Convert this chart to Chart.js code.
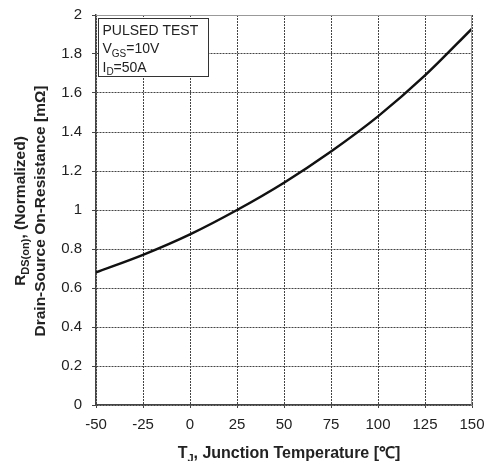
<!DOCTYPE html>
<html>
<head>
<meta charset="utf-8">
<script src="https://cdn.jsdelivr.net/npm/chart.js@4.4.1/dist/chart.umd.min.js"></script>
<style>
    html, body { margin: 0; padding: 0; background: #fff; }
    #wrap { width: 491px; height: 461px; }
</style>
</head>
<body>
<div id="wrap"><canvas id="myChart"></canvas></div>
<script>
// junction temperature (°C) and normalized on-resistance
const temps = [-50, -25, 0, 25, 50, 75, 100, 125, 150];
const rdsOn = [0.68, 0.77, 0.875, 1.0, 1.14, 1.30, 1.48, 1.69, 1.93];
const xTicks = [-50, -25, 0, 25, 50, 75, 100, 125, 150];
const yTicks = [0, 0.2, 0.4, 0.6, 0.8, 1, 1.2, 1.4, 1.6, 1.8, 2];
const noteLines = [['PULSED TEST', ''], ['V', 'GS', '=10V'], ['I', 'D', '=50A']];

const FONT = '"Liberation Sans", Arial, sans-serif';

// draws pieces [main, sub, rest] and returns total width
function drawSubText(ctx, parts, x, y, size, bold, align) {
    const weight = bold ? 'bold ' : '';
    const subSize = Math.round(size * 0.7);
    ctx.font = weight + size + 'px ' + FONT;
    const w0 = ctx.measureText(parts[0]).width;
    const w2 = parts[2] ? ctx.measureText(parts[2]).width : 0;
    ctx.font = weight + subSize + 'px ' + FONT;
    const w1 = parts[1] ? ctx.measureText(parts[1]).width : 0;
    const total = w0 + w1 + w2;
    let sx = align === 'center' ? x - total / 2 : x;
    ctx.textBaseline = 'alphabetic';
    ctx.textAlign = 'left';
    ctx.font = weight + size + 'px ' + FONT;
    ctx.fillText(parts[0], sx, y);
    if (parts[1]) {
        ctx.font = weight + subSize + 'px ' + FONT;
        ctx.fillText(parts[1], sx + w0, y + size * 0.25);
    }
    if (parts[2]) {
        ctx.font = weight + size + 'px ' + FONT;
        ctx.fillText(parts[2], sx + w0 + w1, y);
    }
    return total;
}

const decorations = {
    id: 'decorations',
    afterDraw(chart) {
        const ctx = chart.ctx;
        const area = chart.chartArea;
        ctx.save();

        // light frame on top and right
        ctx.strokeStyle = '#999';
        ctx.lineWidth = 1;
        ctx.beginPath();
        ctx.moveTo(area.left, area.top + 0.5);
        ctx.lineTo(area.right - 0.5, area.top + 0.5);
        ctx.lineTo(area.right - 0.5, area.bottom);
        ctx.stroke();

        // test condition box
        const bx = area.left + 2.5, by = area.top + 3.5;
        ctx.fillStyle = '#fff';
        ctx.fillRect(bx, by, 110, 58);
        ctx.strokeStyle = '#333';
        ctx.strokeRect(bx, by, 110, 58);
        ctx.fillStyle = '#222';
        noteLines.forEach((parts, i) => {
            drawSubText(ctx, parts, bx + 4, by + 16 + i * 18.5, 14, false, 'left');
        });

        // x axis title
        ctx.fillStyle = '#222';
        drawSubText(ctx, ['T', 'J', ', Junction Temperature [\u2103]'],
            (area.left + area.right) / 2 + 5, 458, 16, true, 'center');

        // y axis title, two rotated lines
        ctx.translate(0, 211);
        ctx.rotate(-Math.PI / 2);
        drawSubText(ctx, ['R', 'DS(on)', ', (Normalized)'], 0, 25, 15.5, true, 'center');
        drawSubText(ctx, ['Drain-Source On-Resistance [m\u03a9]', '', ''], 0, 45, 15.5, true, 'center');
        ctx.restore();
    }
};

const ctx = document.getElementById('myChart').getContext('2d');
new Chart(ctx, {
    type: 'line',
    data: {
        labels: temps,
        datasets: [{
            data: temps.map((t, i) => ({ x: t, y: rdsOn[i] })),
            borderColor: '#111',
            borderWidth: 2.5,
            pointRadius: 0,
            cubicInterpolationMode: 'monotone',
            fill: false
        }]
    },
    options: {
        responsive: true,
        maintainAspectRatio: false,
        animation: false,
        layout: { padding: { top: 15, right: 19, left: 0, bottom: 0 } },
        plugins: {
            legend: { display: false },
            tooltip: { enabled: false }
        },
        scales: {
            x: {
                type: 'linear',
                min: -50,
                max: 150,
                afterBuildTicks: (scale) => { scale.ticks = xTicks.map(v => ({ value: v })); },
                afterFit: (scale) => {
                    scale.height = 56;
                    scale.paddingLeft = 0;
                    scale.paddingRight = 0;
                },
                ticks: {
                    color: '#222',
                    font: { family: FONT, size: 15 },
                    padding: 8,
                    maxRotation: 0
                },
                grid: { color: '#444', lineWidth: 1, tickLength: 3 },
                border: { color: '#444', width: 1.5, dash: [2, 1] }
            },
            y: {
                min: 0,
                max: 2,
                afterBuildTicks: (scale) => { scale.ticks = yTicks.map(v => ({ value: v })); },
                afterFit: (scale) => {
                    scale.width = 96;
                    scale.paddingTop = 0;
                    scale.paddingBottom = 0;
                },
                ticks: {
                    color: '#222',
                    font: { family: FONT, size: 15 },
                    padding: 10,
                    callback: (v) => String(v)
                },
                grid: { color: '#444', lineWidth: 1, tickLength: 4 },
                border: { color: '#444', width: 1.5, dash: [2, 1] }
            }
        }
    },
    plugins: [decorations]
});
</script>
</body>
</html>
